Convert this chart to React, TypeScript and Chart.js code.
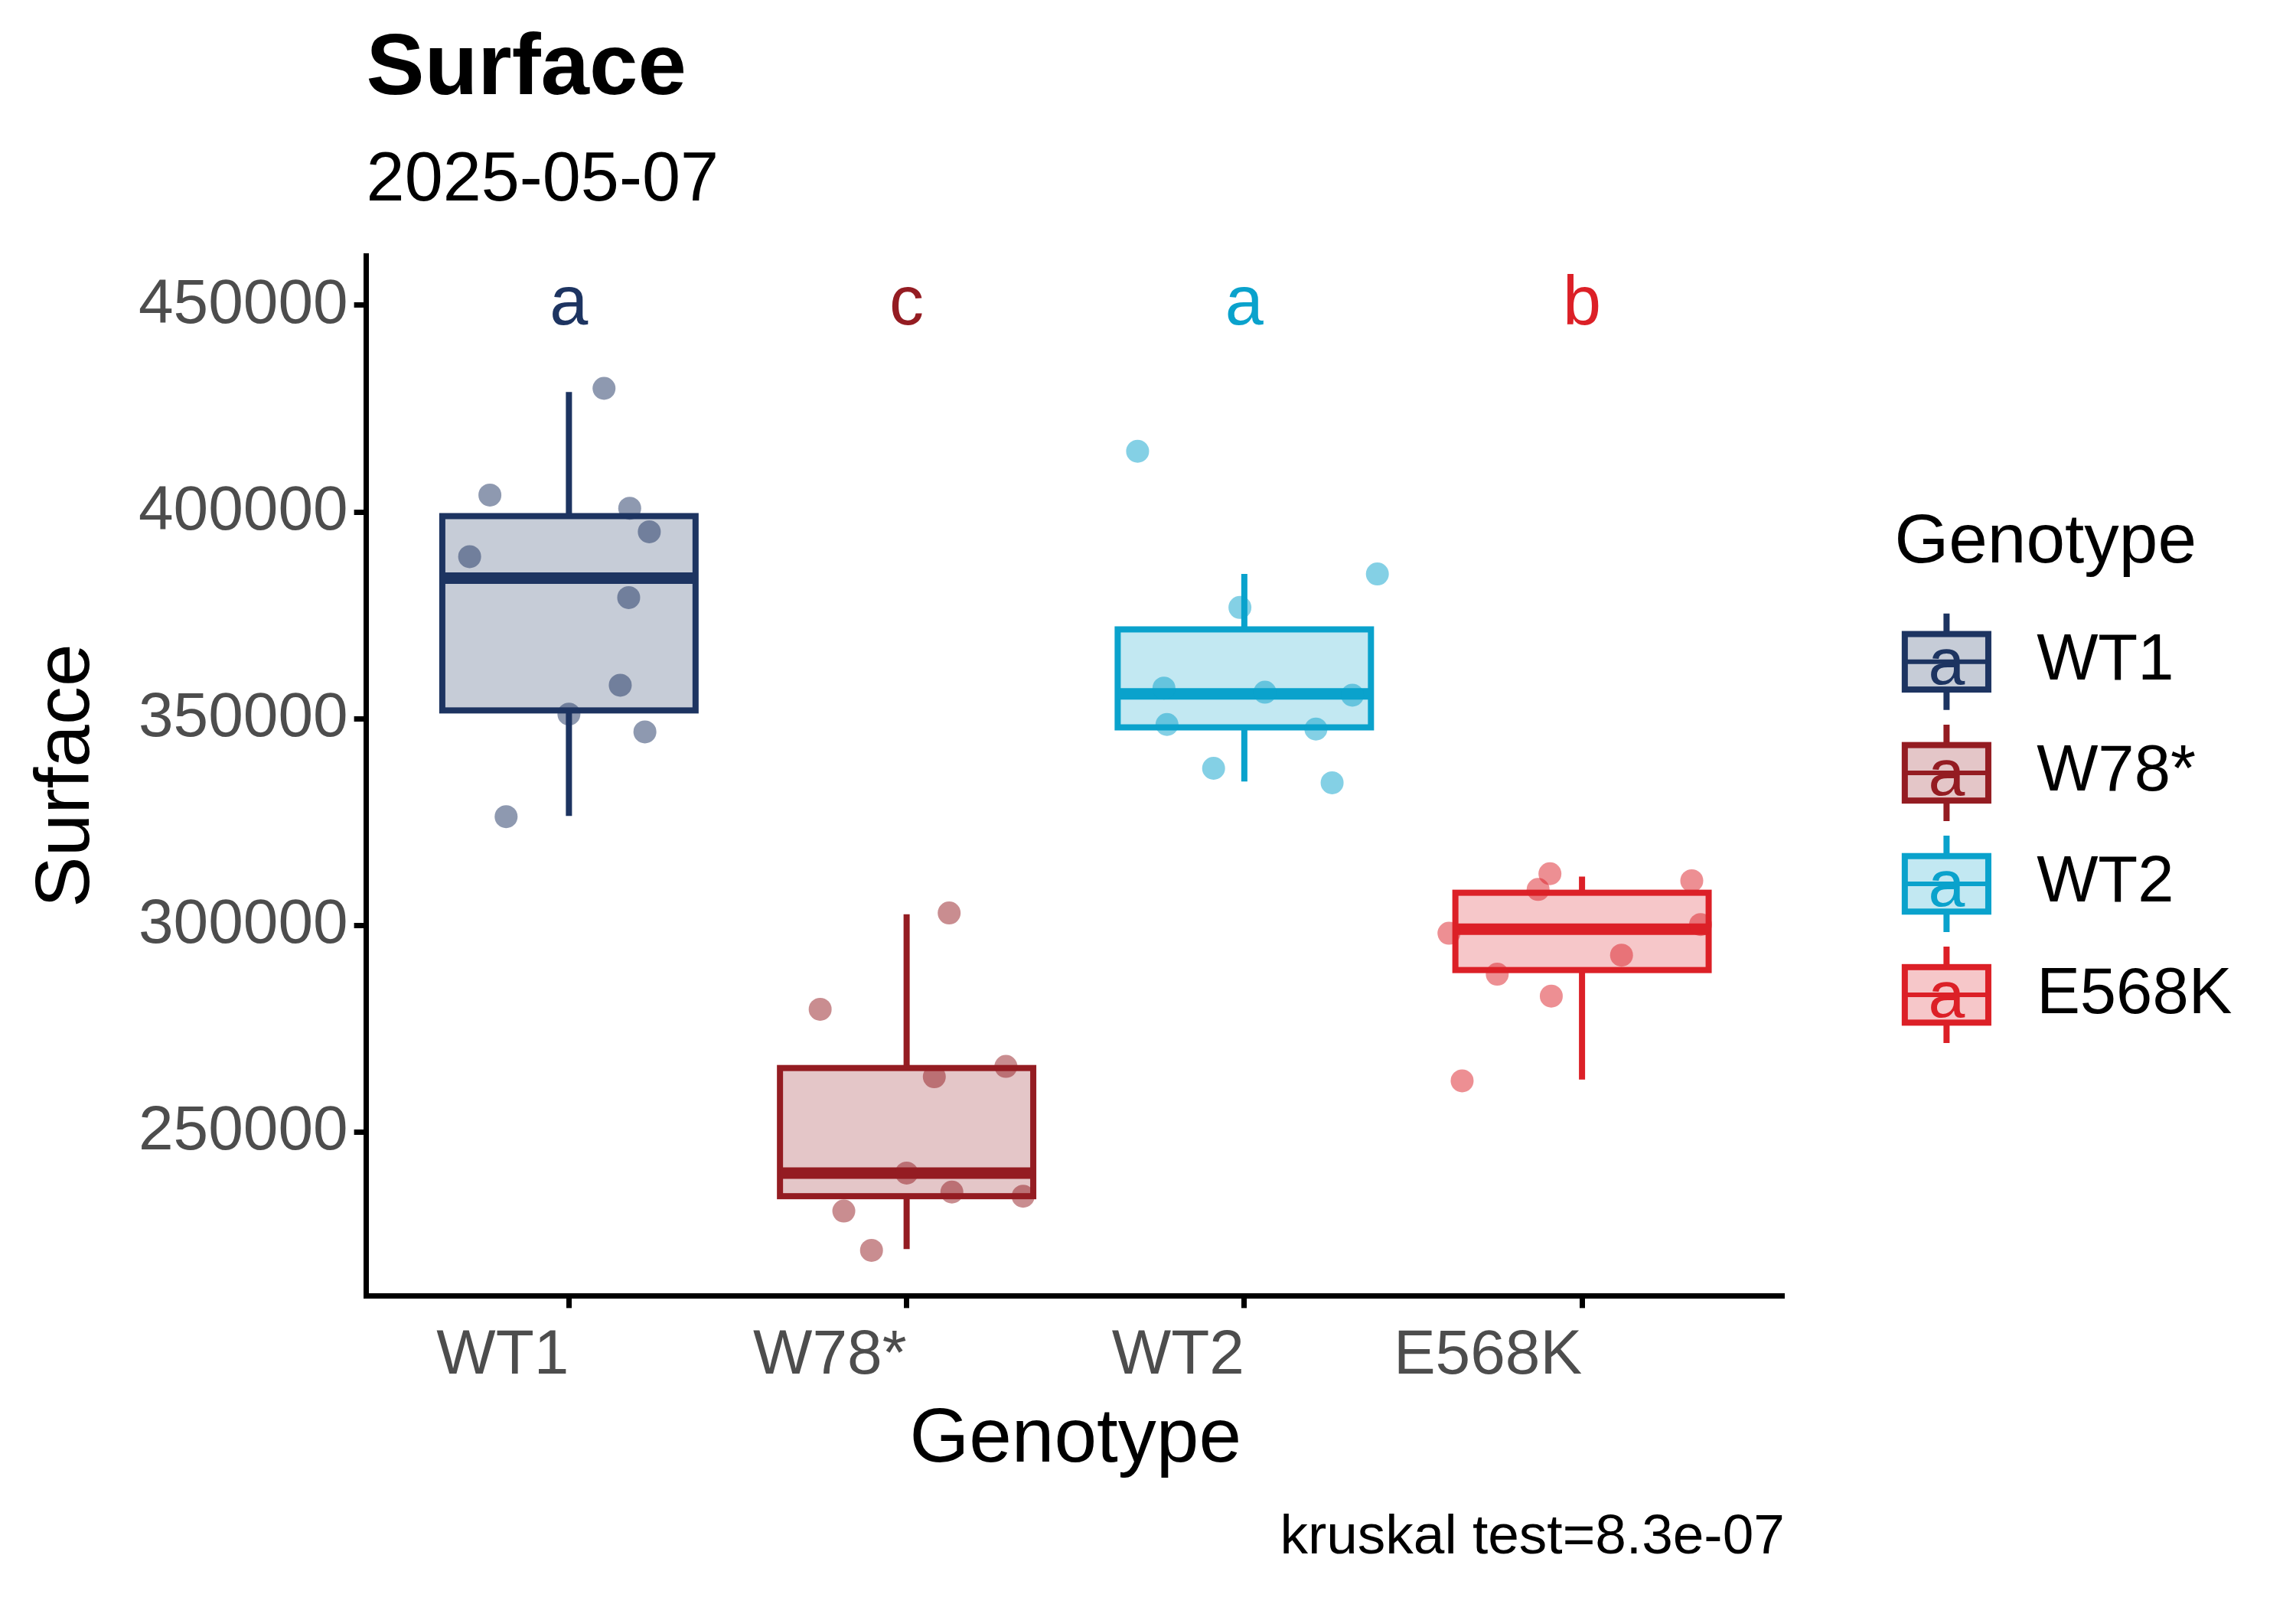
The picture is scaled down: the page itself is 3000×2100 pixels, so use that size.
import React, { useEffect, useRef } from "react";
import { Chart, registerables } from "chart.js";
Chart.register(...registerables);

const categories = ["WT1", "W78*", "WT2", "E568K"];
const colors = ["#1d3461", "#941c22", "#0aa2cc", "#dc2027"];
const fills = ["rgba(29,52,97,0.25)", "rgba(148,28,34,0.25)", "rgba(10,162,204,0.25)", "rgba(220,32,39,0.25)"];
const pointColors = ["rgba(29,52,97,0.5)", "rgba(148,28,34,0.5)", "rgba(10,162,204,0.5)", "rgba(220,32,39,0.5)"];
const letters = ["a", "c", "a", "b"];
const letterY = 450000;
const q1 = [352000, 234500, 347900, 289200];
const medians = [384000, 240100, 356000, 299100];
const q3 = [399000, 265500, 371600, 307900];
const whiskLow = [326500, 221700, 334800, 262700];
const whiskHigh = [429000, 302700, 385000, 311800];
const wt1X = [1.104, 0.766, 1.18, 0.706, 1.238, 1.177, 1.152, 1.0, 1.225, 0.814];
const wt1Y = [429900, 404100, 400900, 389200, 395200, 379300, 358100, 351100, 346800, 326300];
const w78X = [2.126, 1.744, 2.082, 2.294, 2.0, 2.134, 1.814, 2.345, 1.896];
const w78Y = [303000, 279700, 263400, 265900, 240100, 235500, 230900, 234500, 221400];
const wt2X = [2.684, 3.394, 2.987, 2.762, 3.061, 3.32, 2.771, 3.212, 2.909, 3.26];
const wt2Y = [414700, 385000, 376900, 357400, 356400, 355700, 348600, 347500, 338000, 334500];
const e568X = [3.905, 4.325, 3.87, 4.351, 3.606, 4.117, 3.749, 3.909, 3.645];
const e568Y = [312500, 310800, 308700, 300200, 298100, 292800, 288200, 282900, 262400];
const yTicks = [250000, 300000, 350000, 400000, 450000];
const pointsX = [wt1X, w78X, wt2X, e568X];
const pointsY = [wt1Y, w78Y, wt2Y, e568Y];

const FONT = "'Liberation Sans', Arial, sans-serif";
const BOX_HALF = 0.375;
const SX = 3000 / 1567, SY = 2100 / 1100;

const drawPlugin = {
  id: "custom",
  beforeDatasetsDraw(chart: any) {
    const { ctx, scales } = chart;
    const x = scales.x, y = scales.y;
    ctx.save();
    for (let i = 0; i < 4; i++) {
      const cx = x.getPixelForValue(i + 1);
      const l = x.getPixelForValue(i + 1 - BOX_HALF), r = x.getPixelForValue(i + 1 + BOX_HALF);
      const t = y.getPixelForValue(q3[i]), b = y.getPixelForValue(q1[i]);
      ctx.strokeStyle = colors[i];
      ctx.lineWidth = 8;
      ctx.beginPath();
      ctx.moveTo(cx, y.getPixelForValue(whiskHigh[i])); ctx.lineTo(cx, t);
      ctx.moveTo(cx, b); ctx.lineTo(cx, y.getPixelForValue(whiskLow[i]));
      ctx.stroke();
      ctx.fillStyle = fills[i];
      ctx.fillRect(l, t, r - l, b - t);
      ctx.strokeRect(l, t, r - l, b - t);
      ctx.lineWidth = 15;
      const m = y.getPixelForValue(medians[i]);
      ctx.beginPath(); ctx.moveTo(l, m); ctx.lineTo(r, m); ctx.stroke();
      ctx.fillStyle = colors[i];
      ctx.font = `90px ${FONT}`;
      ctx.textAlign = "center"; ctx.textBaseline = "middle";
      ctx.fillText(letters[i], cx, y.getPixelForValue(letterY));
    }
    ctx.restore();
  },
  afterDraw(chart: any) {
    const { ctx, chartArea } = chart;
    ctx.save();
    ctx.fillStyle = "#000";
    ctx.textBaseline = "middle";
    ctx.textAlign = "left";
    ctx.font = `bold 114px ${FONT}`;
    ctx.fillText("Surface", chartArea.left, 48 * SY);
    ctx.font = `90px ${FONT}`;
    ctx.fillText("2025-05-07", chartArea.left, 124 * SY);
    ctx.font = `100px ${FONT}`;
    ctx.textAlign = "center";
    ctx.fillText("Genotype", (chartArea.left + chartArea.right) / 2, 986 * SY);
    ctx.save();
    ctx.translate(46 * SX, (chartArea.top + chartArea.bottom) / 2);
    ctx.rotate(-Math.PI / 2);
    ctx.fillText("Surface", 0, 0);
    ctx.restore();
    ctx.textAlign = "right";
    ctx.font = `73px ${FONT}`;
    ctx.fillText("kruskal test=8.3e-07", chartArea.right, 1053 * SY);
    // legend
    ctx.textAlign = "left";
    ctx.font = `91px ${FONT}`;
    ctx.fillText("Genotype", 1293 * SX, 372 * SY);
    for (let i = 0; i < 4; i++) {
      const cy = (453 + 76 * i) * SY;
      const l = 1300 * SX, r = 1357 * SX, cx = (l + r) / 2;
      const h = 38 * SY;
      ctx.strokeStyle = colors[i];
      ctx.lineWidth = 8;
      ctx.beginPath();
      ctx.moveTo(cx, cy - 33 * SY); ctx.lineTo(cx, cy - h / 2);
      ctx.moveTo(cx, cy + h / 2); ctx.lineTo(cx, cy + 33 * SY);
      ctx.stroke();
      ctx.fillStyle = fills[i];
      ctx.fillRect(l, cy - h / 2, r - l, h);
      ctx.strokeRect(l, cy - h / 2, r - l, h);
      ctx.lineWidth = 6;
      ctx.beginPath(); ctx.moveTo(l, cy); ctx.lineTo(r, cy); ctx.stroke();
      ctx.fillStyle = colors[i];
      ctx.textAlign = "center";
      ctx.font = `86px ${FONT}`;
      ctx.fillText("a", cx, cy + 5);
      ctx.textAlign = "left";
      ctx.fillStyle = "#000";
      ctx.font = `85px ${FONT}`;
      ctx.fillText(categories[i], 1390 * SX, cy);
    }
    ctx.restore();
  },
};

export default function App() {
  const ref = useRef<HTMLCanvasElement>(null);
  useEffect(() => {
    document.body.style.margin = "0";
    const datasets = categories.map((c, i) => ({
      label: c,
      data: pointsX[i].map((xv, k) => ({ x: xv, y: pointsY[i][k] })),
      backgroundColor: pointColors[i],
      borderWidth: 0,
      pointRadius: 15,
    }));
    const chart = new Chart(ref.current!, {
      type: "scatter",
      data: { datasets },
      plugins: [drawPlugin],
      options: {
        animation: false,
        responsive: false,
        devicePixelRatio: 1,
        layout: { padding: { top: 175 * SY, right: 3000 - 1218 * SX, left: 0, bottom: 0 } },
        plugins: { legend: { display: false }, tooltip: { enabled: false }, title: { display: false } },
        scales: {
          x: {
            type: "linear", min: 0.4, max: 4.6,
            afterBuildTicks: (s: any) => { s.ticks = [1, 2, 3, 4].map((v) => ({ value: v })); },
            afterFit: (s: any) => { s.height = 2100 - 887 * SY; },
            ticks: { callback: (v: any) => categories[v - 1], align: "end", color: "#4d4d4d", font: { family: FONT, size: 82 }, padding: 14 },
            grid: { drawOnChartArea: false, color: "#000", tickLength: 16, tickWidth: 7 },
            border: { color: "#000", width: 7 },
          },
          y: {
            type: "linear", min: 210400, max: 462000,
            afterBuildTicks: (s: any) => { s.ticks = yTicks.map((v) => ({ value: v })); },
            afterFit: (s: any) => { s.width = 250 * SX; },
            ticks: { callback: (v: any) => String(v), color: "#4d4d4d", font: { family: FONT, size: 82 }, padding: 8 },
            grid: { drawOnChartArea: false, color: "#000", tickLength: 16, tickWidth: 7 },
            border: { color: "#000", width: 7 },
          },
        },
      } as any,
    });
    return () => chart.destroy();
  }, []);
  return <canvas ref={ref} width={3000} height={2100} style={{ display: "block", background: "#fff" }} />;
}
